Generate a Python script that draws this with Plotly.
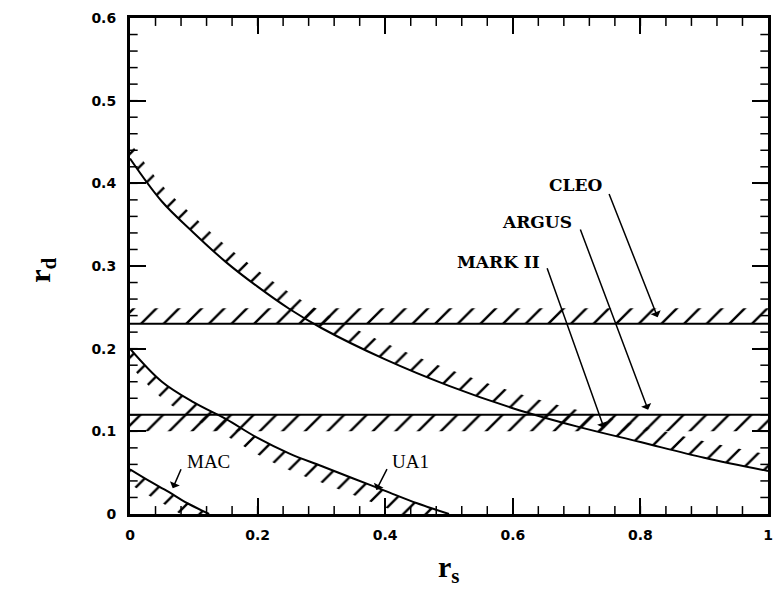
import plotly.graph_objects as go

# ---- data ----
big_x = [0, 0.05, 0.1, 0.15, 0.2, 0.25, 0.3, 0.4, 0.5, 0.6, 0.7, 0.8, 0.9, 1.0]
big_y = [0.43, 0.378, 0.34, 0.305, 0.275, 0.248, 0.225, 0.187, 0.155, 0.128, 0.106, 0.087, 0.068, 0.052]

ua1_x = [0, 0.05, 0.1, 0.15, 0.2, 0.25, 0.3, 0.35, 0.4, 0.45, 0.5]
ua1_y = [0.2, 0.16, 0.135, 0.115, 0.092, 0.073, 0.058, 0.043, 0.028, 0.013, 0.0]

mac_x = [0, 0.03, 0.06, 0.09, 0.124]
mac_y = [0.054, 0.04, 0.027, 0.013, 0.0]

band_x = [0, 1]
cleo_level = 0.23
mark2_level = 0.12
hatch_width = 0.02

labels = ["CLEO", "ARGUS", "MARK II", "MAC", "UA1"]
label_x = [0.653, 0.580, 0.509, 0.0855, 0.407]
label_y = [0.398, 0.353, 0.305, 0.063, 0.063]
arrow_tail_x = [0.750, 0.705, 0.653, 0.081, 0.404]
arrow_tail_y = [0.389, 0.346, 0.299, 0.056, 0.056]
arrow_head_x = [0.827, 0.812, 0.743, 0.067, 0.386]
arrow_head_y = [0.238, 0.126, 0.104, 0.031, 0.029]

x_ticks = [0, 0.2, 0.4, 0.6, 0.8, 1.0]
x_ticktext = ["0", "0.2", "0.4", "0.6", "0.8", "1"]
y_ticks = [0, 0.1, 0.2, 0.3, 0.4, 0.5, 0.6]
y_ticktext = ["0", "0.1", "0.2", "0.3", "0.4", "0.5", "0.6"]
x_minor_step = 0.04
y_minor_step = 0.02
x_range = [0, 1]
y_range = [0, 0.6]

pattern = dict(shape="/", size=16, solidity=0.15, fgcolor="black",
               bgcolor="rgba(255,255,255,0)", fillmode="replace")

fig = go.Figure()


def hatched(xs, ys, offset, shape="spline"):
    off = [y + offset for y in ys]
    fig.add_trace(go.Scatter(x=xs, y=off, mode="lines",
                             line=dict(width=0, color="rgba(0,0,0,0)", shape=shape),
                             hoverinfo="skip", showlegend=False))
    fig.add_trace(go.Scatter(x=xs, y=ys, mode="lines",
                             line=dict(width=2, color="black", shape=shape),
                             fill="tonexty", fillcolor="rgba(0,0,0,0)",
                             fillpattern=pattern, showlegend=False))


hatched(big_x, big_y, hatch_width)
hatched(ua1_x, ua1_y, -hatch_width)
hatched(mac_x, mac_y, -0.018)
hatched(band_x, [cleo_level, cleo_level], hatch_width - 0.001, shape="linear")
hatched(band_x, [mark2_level, mark2_level], -hatch_width, shape="linear")

annotations = []
for i, t in enumerate(labels):
    serif_bold = t in ("CLEO", "ARGUS", "MARK II")
    annotations.append(dict(
        x=label_x[i], y=label_y[i], xref="x", yref="y", text=t,
        showarrow=False, xanchor="left", yanchor="middle",
        font=dict(family="DejaVu Serif" if serif_bold else "Liberation Serif",
                  size=17 if serif_bold else 19, color="black",
                  weight="bold" if serif_bold else "normal")))
    annotations.append(dict(
        x=arrow_head_x[i], y=arrow_head_y[i], xref="x", yref="y",
        ax=arrow_tail_x[i], ay=arrow_tail_y[i], axref="x", ayref="y",
        text="", showarrow=True, arrowhead=1, arrowsize=1.2,
        arrowwidth=1.5, arrowcolor="black", standoff=0, startstandoff=0))

annotations.append(dict(
    x=0.5, y=-0.153, xref="paper", yref="paper",
    text="<b>r<sub>s</sub></b>", showarrow=False,
    font=dict(family="Liberation Serif", size=30, color="black")))
annotations.append(dict(
    x=-0.171, y=0.492, xref="paper", yref="paper",
    text="<b>r<sub>d</sub></b>", showarrow=False, textangle=-90,
    font=dict(family="Liberation Serif", size=30, color="black")))

# minor tick marks drawn as short shapes at every minor step, on all four sides
shapes = []
n_x = int(round((x_range[1] - x_range[0]) / x_minor_step))
for k in range(1, n_x):
    xv = x_range[0] + k * x_minor_step
    for y0, y1 in ((0, 0.016), (1, 0.984)):
        shapes.append(dict(type="line", xref="x", yref="paper", x0=xv, x1=xv,
                           y0=y0, y1=y1, line=dict(color="black", width=1.5)))
n_y = int(round((y_range[1] - y_range[0]) / y_minor_step))
for k in range(1, n_y):
    yv = y_range[0] + k * y_minor_step
    for x0, x1 in ((0, 0.012), (1, 0.988)):
        shapes.append(dict(type="line", xref="paper", yref="y", x0=x0, x1=x1,
                           y0=yv, y1=yv, line=dict(color="black", width=1.5)))

axis_common = dict(
    showline=True, linewidth=3, linecolor="black", mirror="allticks",
    ticks="inside", ticklen=16, tickwidth=2, tickcolor="black",
    showgrid=False, zeroline=False,
    tickfont=dict(family="DejaVu Sans", size=14, color="black", weight="bold"),
)

fig.update_layout(
    width=781, height=607, autosize=False,
    margin=dict(l=130, r=8, t=18, b=93),
    plot_bgcolor="white", paper_bgcolor="white",
    showlegend=False,
    annotations=annotations,
    shapes=shapes,
    xaxis=dict(range=x_range, tickmode="array", tickvals=x_ticks, ticktext=x_ticktext,
               ticklabelstandoff=6, **axis_common),
    yaxis=dict(range=y_range, tickmode="array", tickvals=y_ticks, ticktext=y_ticktext,
               ticklabelstandoff=8, **axis_common),
)

fig.write_html("out.html")
